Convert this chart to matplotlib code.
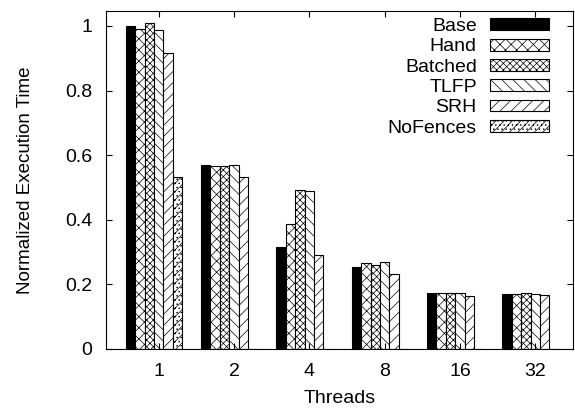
import matplotlib
matplotlib.use("Agg")
import matplotlib.pyplot as plt
import numpy as np

threads = ["1", "2", "4", "8", "16", "32"]
series = ["Base", "Hand", "Batched", "TLFP", "SRH", "NoFences"]
base = [1.000, 0.568, 0.315, 0.255, 0.174, 0.170]
hand = [0.990, 0.567, 0.387, 0.266, 0.172, 0.169]
batched = [1.010, 0.566, 0.492, 0.259, 0.172, 0.172]
tlfp = [0.986, 0.571, 0.490, 0.269, 0.172, 0.169]
srh = [0.917, 0.533, 0.291, 0.232, 0.165, 0.168]
nofences = [0.533, 0.0, 0.0, 0.0, 0.0, 0.0]
yticks = [0, 0.2, 0.4, 0.6, 0.8, 1.0]
ytick_labels = ["0", "0.2", "0.4", "0.6", "0.8", "1"]

values = [base, hand, batched, tlfp, srh, nofences]
hatches = [None, "xxx", "xxxxx", "\\\\\\", "///", "////...."]
faces = ["black", "white", "white", "white", "white", "white"]

plt.rcParams["font.family"] = ["Liberation Sans", "DejaVu Sans"]
plt.rcParams["hatch.linewidth"] = 0.5
plt.rcParams["hatch.color"] = "black"

fig = plt.figure(figsize=(5.75, 4.09), dpi=100)
ax = fig.add_axes([0.1843, 0.1467, 0.8122, 0.8271])

x = np.arange(len(threads))
w = 0.125
for i, (name, vals) in enumerate(zip(series, values)):
    ax.bar(x + (i - 3.5) * w, vals, width=w, align="edge",
           facecolor=faces[i], edgecolor="black", linewidth=0.8,
           hatch=hatches[i], label=name)

ax.set_xlim(-0.7, 5.5)
ax.set_ylim(0, 1.047)
ax.set_xticks(x)
ax.set_xticklabels(threads)
ax.set_yticks(yticks)
ax.set_yticklabels(ytick_labels)
ax.tick_params(direction="in", length=4, width=0.8, top=True, right=True,
               labelsize=14, pad=10)
for s in ax.spines.values():
    s.set_linewidth(0.8)

ax.set_xlabel("Threads", fontsize=14, labelpad=7)
ax.set_ylabel("Normalized Execution Time", fontsize=13.5, labelpad=22)

leg = ax.legend(loc="upper right", bbox_to_anchor=(0.9486, 0.978),
                frameon=False, markerfirst=False, fontsize=14,
                handlelength=3.04, handleheight=0.57, handletextpad=0.67,
                labelspacing=0.17, borderpad=0, borderaxespad=0)

fig.savefig("out.png", dpi=100)
